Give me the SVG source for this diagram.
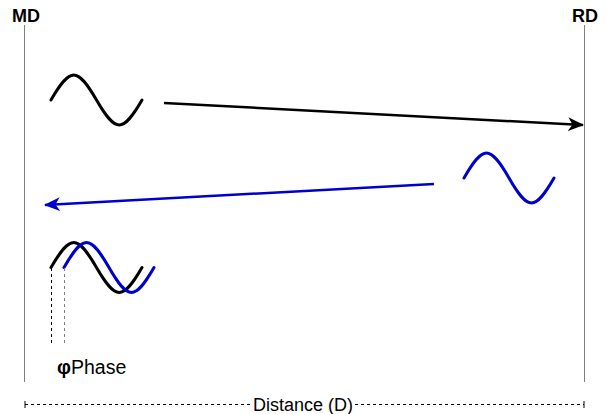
<svg xmlns="http://www.w3.org/2000/svg" width="607" height="414" viewBox="0 0 607 414">
<style>
.t{font-family:"Liberation Sans",Arial,sans-serif;fill:#000}
.b{font-weight:bold}
.axis{stroke:#808080;stroke-width:1;fill:none}
.wave{fill:none;stroke-width:3;stroke-linecap:round}
.k{stroke:#000}
.bl{stroke:#0000CC}
</style>
<defs>
<marker id="ak" markerUnits="userSpaceOnUse" markerWidth="16" markerHeight="14" refX="15" refY="7" orient="auto">
<path d="M0,0 L16,7 L0,14 L4.5,7 Z" fill="#000"/>
</marker>
<marker id="ab" markerUnits="userSpaceOnUse" markerWidth="16" markerHeight="14" refX="15" refY="7" orient="auto">
<path d="M0,0 L16,7 L0,14 L4.5,7 Z" fill="#0000CC"/>
</marker>
</defs>
<g id="md">
<line class="axis" x1="24.5" y1="25" x2="24.5" y2="382"/>
<text class="t b" x="26" y="22" font-size="18" text-anchor="middle">MD</text>
</g>
<g id="rd">
<line class="axis" x1="584.5" y1="25" x2="584.5" y2="382"/>
<text class="t b" x="585" y="22" font-size="18" text-anchor="middle">RD</text>
</g>
<g id="wave-tx">
<path class="wave k" d="M51,100 C70.3,66.7 77.2,66.7 96.5,100 C115.8,133.3 122.7,133.3 142,100"/>
</g>
<g id="wave-rx">
<path class="wave bl" d="M464,178 C483.1,144.7 489.9,144.7 509,178 C528.1,211.3 534.9,211.3 554,178"/>
</g>
<g id="phase">
<path class="wave k" d="M51,267.5 C70.3,234.2 77.2,234.2 96.5,267.5 C115.8,300.8 122.7,300.8 142,267.5"/>
<path class="wave bl" d="M64,267.5 C83.1,234.2 89.9,234.2 109,267.5 C128.1,300.8 134.9,300.8 154,267.5"/>
<line x1="51.5" y1="268" x2="51.5" y2="344" stroke="#000" stroke-width="1" stroke-dasharray="3,3"/>
<line x1="64.5" y1="268" x2="64.5" y2="344" stroke="#808080" stroke-width="1" stroke-dasharray="3,3"/>
<text class="t" x="57" y="374" font-size="19.5"><tspan class="b">φ</tspan>Phase</text>
</g>
<g id="connectors">
<line x1="164" y1="103" x2="583" y2="125" stroke="#000" stroke-width="2.5" marker-end="url(#ak)"/>
<line x1="434" y1="184" x2="45" y2="205" stroke="#0000CC" stroke-width="2.5" marker-end="url(#ab)"/>
</g>
<g id="distance">
<line x1="25" y1="404.5" x2="584" y2="404.5" stroke="#000" stroke-width="1" stroke-dasharray="3,3"/>
<line x1="25" y1="401" x2="25" y2="408" stroke="#000" stroke-width="1"/>
<line x1="584" y1="401" x2="584" y2="408" stroke="#000" stroke-width="1"/>
<rect x="252" y="395" width="102" height="19" fill="#fff"/>
<text class="t" x="303" y="410.5" font-size="18" text-anchor="middle">Distance (D)</text>
</g>
</svg>
